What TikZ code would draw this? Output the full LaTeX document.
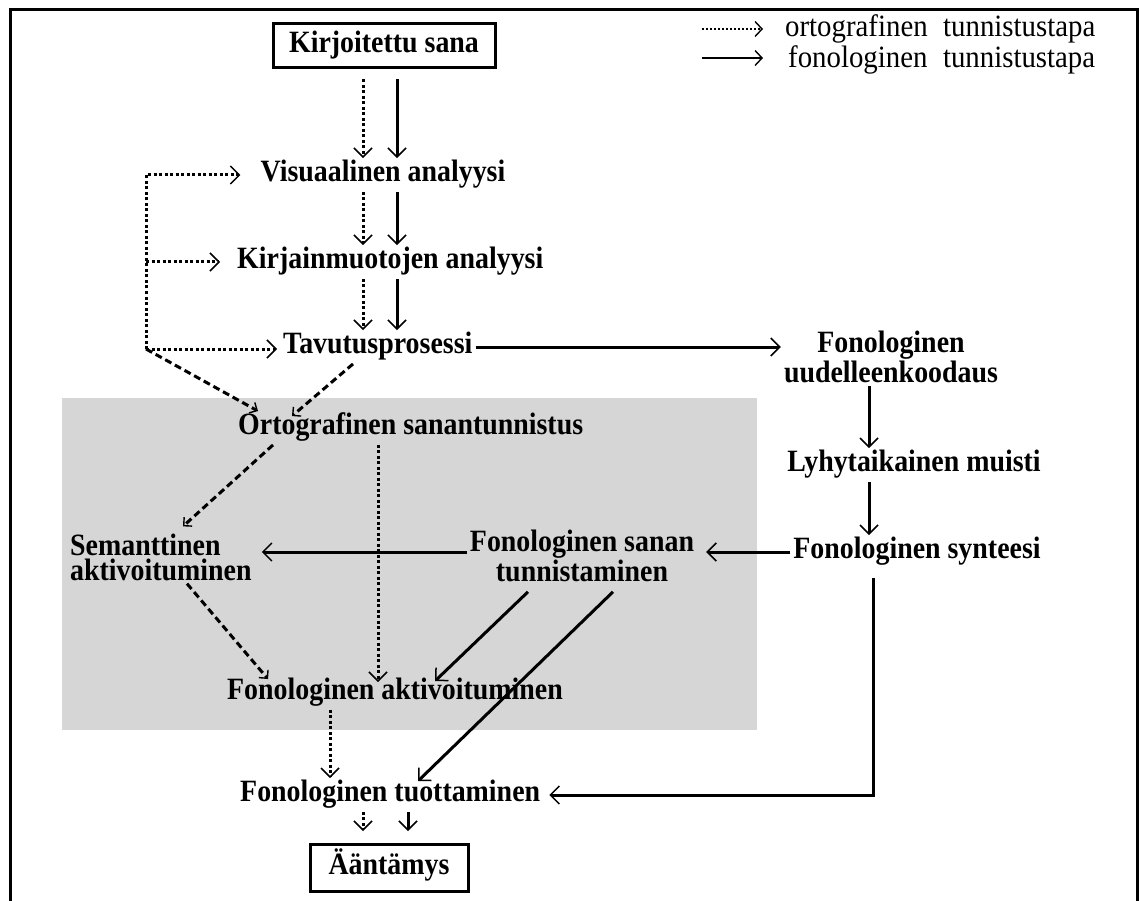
\documentclass[tikz,border=0pt]{standalone}
\usepackage{fontspec}
\setmainfont{Liberation Serif}
\newfontfamily\lblfont{Liberation Serif}[FakeStretch=0.9]
\newfontfamily\legfont{Liberation Serif}[FakeStretch=0.93]
\usetikzlibrary{arrows.meta}

\tikzset{
  lbl/.style={font=\lblfont\fontsize{31}{25}\selectfont\bfseries, inner sep=3pt},
  lblone/.style={lbl, text height=20.5pt, text depth=7pt},
  lbltwo/.style={lbl, align=#1},
  boxed/.style={lblone, draw, line width=3pt},
  leg/.style={font=\legfont\fontsize{31}{31}\selectfont, inner sep=0pt},
  fono/.style={line width=3pt, -{Straight Barb[length=9pt,width=18pt,line width=1.5pt]}},
  orto/.style={fono, dash pattern=on 3pt off 2.5pt},
  ortodash/.style={line width=3pt, dash pattern=on 7pt off 4pt,
    -{Straight Barb[length=6pt,width=12pt,line width=1.4pt]}},
  legfono/.style={line width=2.5pt, -{Straight Barb[length=7pt,width=15pt,line width=1.4pt]}},
  legorto/.style={legfono, dash pattern=on 2pt off 2pt},
}

\begin{document}
\begin{tikzpicture}[x=1pt,y=-1pt]
  \useasboundingbox (0,0) rectangle (1140,901);
  % kehys
  \draw[line width=3pt] (10,901) -- (10,10) -- (1137,10) -- (1137,901);
  % harmaa alue
  \fill[black!16] (62,398) rectangle (757,730);

  % selite
  \node[leg, anchor=base west] (lego) at (785,37) {ortografinen\hspace{.5em}tunnistustapa};
  \node[leg, anchor=base west] (legf) at (788,68) {fonologinen\hspace{.5em}tunnistustapa};
  \coordinate (lgo) at (702,29);
  \coordinate (lgf) at (702,58);
  \draw[legorto, shorten >=22pt] (lgo) -- (lgo -| lego.west);
  \draw[legfono, shorten >=25pt] (lgf) -- (lgf -| legf.west);

  % solmut
  \node[boxed, minimum width=222pt, minimum height=44pt] (kirj) at (384,46) {Kirjoitettu sana};
  \node[lblone] (visu) at (383,175) {Visuaalinen analyysi};
  \node[lblone, anchor=west] (kirjain) at (234,262) {Kirjainmuotojen analyysi};
  \node[lblone, anchor=west] (tavu) at (280,347) {Tavutusprosessi};
  \node[lblone, anchor=west] (orto) at (235,428) {Ortografinen sanantunnistus};
  \node[lbltwo=left, anchor=west] (seman) at (67,557) {Semanttinen\\aktivoituminen};
  \node[lbltwo=center] (fsan) at (582,556) {Fonologinen sanan\\tunnistaminen};
  \node[lblone, anchor=west] (faktiv) at (224,693) {Fonologinen aktivoituminen};
  \node[lblone, anchor=west] (ftuot) at (237,795) {Fonologinen tuottaminen};
  \node[boxed, minimum width=158pt, minimum height=47pt] (aant) at (389,868) {Ääntämys};
  \node[lbltwo=center] (fuud) at (891,357) {Fonologinen\\uudelleenkoodaus};
  \node[lblone] (lyhyt) at (914,465) {Lyhytaikainen muisti};
  \node[lblone] (fsyn) at (917,552) {Fonologinen synteesi};

  % pystysuorat linjat
  \coordinate (dx) at (363,0);
  \coordinate (sx) at (397,0);
  \coordinate (vx) at (378,0);
  \coordinate (ax) at (330,0);
  \coordinate (bx) at (408,0);
  \coordinate (rx) at (869,0);
  \coordinate (lp) at (146,349);

  % kirjoitettu sana -> tavutus
  \draw[orto, shorten <=10pt] (kirj.south -| dx) -- (visu.north -| dx);
  \draw[fono, shorten <=10pt] (kirj.south -| sx) -- (visu.north -| sx);
  \draw[orto] (visu.south -| dx) -- (kirjain.north -| dx);
  \draw[fono] (visu.south -| sx) -- (kirjain.north -| sx);
  \draw[orto] (kirjain.south -| dx) -- (tavu.north -| dx);
  \draw[fono] (kirjain.south -| sx) -- (tavu.north -| sx);

  % takaisinkytkentä
  \draw[orto] (lp) |- ([xshift=-17pt]visu.west);
  \draw[orto] (lp |- kirjain.west) -- ([xshift=-14pt]kirjain.west);
  \draw[orto] (lp) -- ([xshift=-3pt]tavu.west |- lp);
  \draw[ortodash] (lp) -- ([xshift=23pt]orto.north west);
  \draw[ortodash] ([xshift=73pt]tavu.south west) -- ([xshift=57pt,yshift=-5pt]orto.north west);

  % ortografinen reitti
  \draw[ortodash] ([xshift=38pt]orto.south west) -- ([xshift=116pt,yshift=4pt]seman.north west);
  \draw[ortodash] ([xshift=120pt]seman.south west) -- ([xshift=44pt,yshift=-3pt]faktiv.north west);
  \draw[orto, shorten >=-6pt] (orto.south -| vx) -- (faktiv.north -| vx);
  \draw[orto] (faktiv.south -| ax) -- (ftuot.north -| ax);

  % fonologinen reitti
  \draw[fono] (tavu.east) -- (tavu.east -| fuud.west);
  \draw[fono] (fuud.south -| rx) -- (lyhyt.north -| rx);
  \draw[fono] (lyhyt.south -| rx) -- (fsyn.north -| rx);
  \draw[fono, shorten >=9pt] (fsyn.west) -- (fsyn.west -| fsan.east);
  \draw[fono, shorten >=7pt] ([yshift=4pt]fsan.west) -- ([yshift=4pt]fsan.west -| seman.east);
  \draw[fono] ([xshift=-54pt,yshift=-7pt]fsan.south) -- ([xshift=211pt,yshift=-5pt]faktiv.north west);
  \draw[fono] ([xshift=31pt,yshift=-7pt]fsan.south) -- ([xshift=181pt,yshift=-3pt]ftuot.north west);
  \draw[fono, shorten <=9pt, shorten >=6pt] ([xshift=-44pt]fsyn.south) |- (ftuot.east);

  % tuottaminen -> ääntämys
  \draw[orto, shorten >=12pt] (ftuot.south -| dx) -- (aant.north -| dx);
  \draw[fono, shorten >=12pt] (ftuot.south -| bx) -- (aant.north -| bx);
\end{tikzpicture}
\end{document}
